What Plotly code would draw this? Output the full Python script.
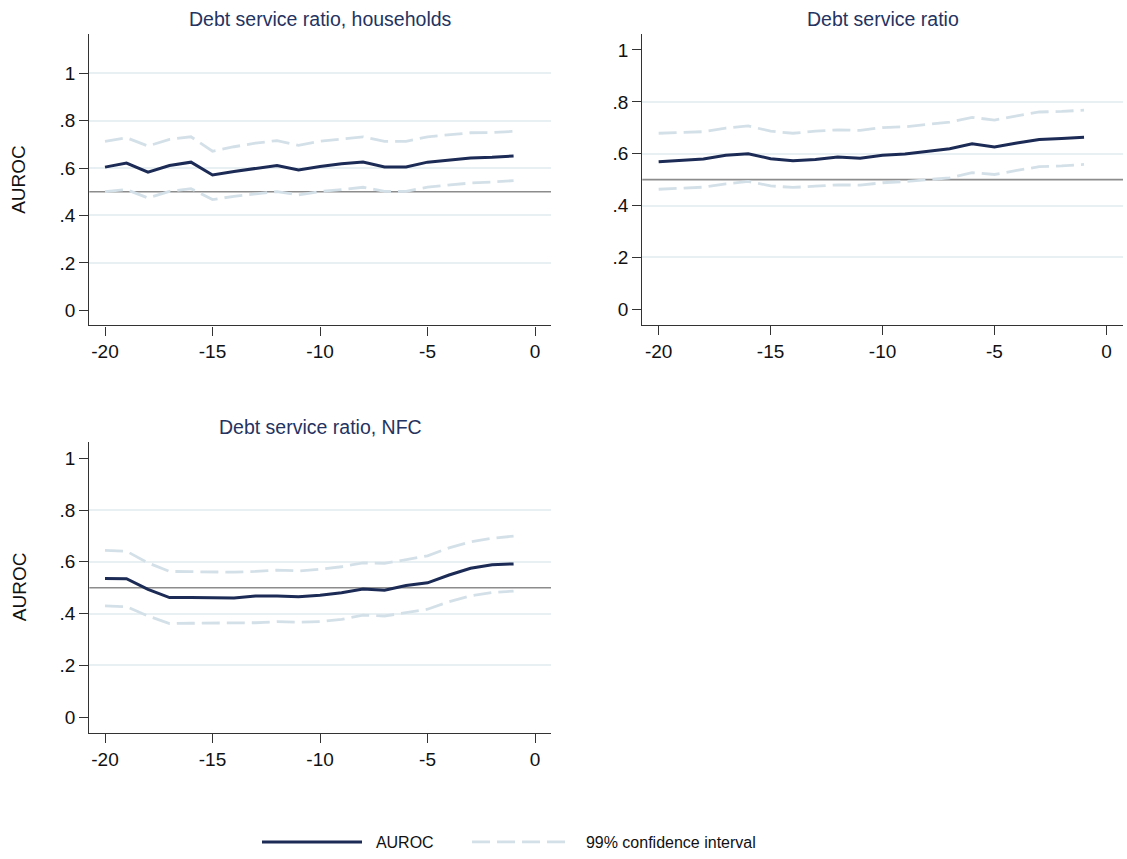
import plotly.graph_objects as go

horizons = list(range(-20, 0))

titles = ["Debt service ratio, households", "Debt service ratio", "Debt service ratio, NFC"]

hh_auroc = [0.604, 0.621, 0.583, 0.611, 0.625, 0.571, 0.586, 0.597, 0.611, 0.592,
            0.607, 0.618, 0.626, 0.605, 0.605, 0.625, 0.635, 0.643, 0.646, 0.651]
hh_upper = [0.713, 0.728, 0.693, 0.721, 0.732, 0.671, 0.690, 0.705, 0.716, 0.696,
            0.713, 0.723, 0.732, 0.713, 0.713, 0.732, 0.741, 0.749, 0.750, 0.755]
hh_lower = [0.501, 0.509, 0.474, 0.502, 0.513, 0.467, 0.481, 0.492, 0.501, 0.487,
            0.501, 0.509, 0.519, 0.502, 0.502, 0.520, 0.529, 0.537, 0.541, 0.547]

tot_auroc = [0.569, 0.574, 0.580, 0.594, 0.600, 0.581, 0.573, 0.578, 0.587, 0.583,
             0.594, 0.599, 0.609, 0.619, 0.638, 0.626, 0.641, 0.655, 0.659, 0.664]
tot_upper = [0.679, 0.681, 0.685, 0.699, 0.707, 0.687, 0.679, 0.687, 0.692, 0.690,
             0.701, 0.704, 0.713, 0.722, 0.740, 0.730, 0.746, 0.761, 0.763, 0.768]
tot_lower = [0.463, 0.466, 0.471, 0.484, 0.493, 0.476, 0.470, 0.475, 0.480, 0.479,
             0.488, 0.493, 0.500, 0.507, 0.527, 0.520, 0.536, 0.550, 0.553, 0.559]

nfc_auroc = [0.536, 0.535, 0.494, 0.462, 0.462, 0.460, 0.460, 0.468, 0.468, 0.465,
             0.471, 0.481, 0.495, 0.490, 0.509, 0.519, 0.549, 0.575, 0.589, 0.592]
nfc_upper = [0.644, 0.641, 0.596, 0.563, 0.562, 0.560, 0.560, 0.563, 0.568, 0.565,
             0.571, 0.581, 0.596, 0.594, 0.609, 0.623, 0.654, 0.677, 0.691, 0.699]
nfc_lower = [0.430, 0.427, 0.391, 0.362, 0.363, 0.363, 0.363, 0.365, 0.369, 0.367,
             0.369, 0.378, 0.394, 0.391, 0.404, 0.417, 0.446, 0.469, 0.482, 0.487]

x_ticks = [-20, -15, -10, -5, 0]
x_tick_labels = ["-20", "-15", "-10", "-5", "0"]
y_ticks = [0, 0.2, 0.4, 0.6, 0.8, 1]
y_tick_labels = ["0", ".2", ".4", ".6", ".8", "1"]
reference_level = 0.5

NAVY = "#1c2b55"
CI = "#d4e0e8"
GRID = "#e9f0f3"
AXIS = "#333333"
FONT = "Liberation Sans, Arial, sans-serif"
TICKFONT = dict(family=FONT, size=19, color="#111")

W, H = 1127, 859
# pixel boxes in page coordinates: (left, right, top, bottom)
boxes = [(89.3, 551, 34.5, 328.5), (642.3, 1123, 34.5, 328.2), (89.3, 551, 446, 739.5)]
title_y = [19, 19, 431]
y_ranges = [[-0.064, 1.165], [-0.061, 1.061], [-0.059, 1.063]]
x_range = [-20.73, 0.74]
grid_sets = [[0.2, 0.4, 0.6, 0.8, 1.0], [0.2, 0.4, 0.6, 0.8], [0.2, 0.4, 0.6, 0.8]]
show_ytitle = [True, False, True]


def px(v):
    return v / W


def py(v):
    return 1 - v / H


series = [(hh_auroc, hh_lower, hh_upper), (tot_auroc, tot_lower, tot_upper), (nfc_auroc, nfc_lower, nfc_upper)]

fig = go.Figure()
layout = {}
annotations = []
shapes = []
for i, ((auroc, lo, hi), box, yr, grids, title, ty) in enumerate(
        zip(series, boxes, y_ranges, grid_sets, titles, title_y)):
    n = "" if i == 0 else str(i + 1)
    xa, ya = "x" + n, "y" + n
    l, r, t, b = box
    layout["xaxis" + n] = dict(
        domain=[px(l), min(px(r), 1)], anchor=ya, range=x_range, automargin=False,
        tickvals=x_ticks, ticktext=x_tick_labels, ticks="outside", ticklen=9,
        tickwidth=1.3, tickcolor=AXIS, showline=True, linecolor=AXIS, linewidth=1.3,
        showgrid=False, zeroline=False, tickfont=TICKFONT,
    )
    layout["yaxis" + n] = dict(
        domain=[py(b), py(t)], anchor=xa, range=yr, automargin=False,
        tickvals=y_ticks, ticktext=y_tick_labels, ticks="outside", ticklen=9,
        tickwidth=1.3, tickcolor=AXIS, showline=True, linecolor=AXIS, linewidth=1.3,
        showgrid=False, zeroline=False, tickfont=TICKFONT,
        minor=dict(tickvals=grids, showgrid=True, gridcolor=GRID, gridwidth=1.5, ticks=""),
    )
    annotations.append(dict(
        text=title, x=px((l + r) / 2), y=py(ty), xref="paper", yref="paper",
        xanchor="center", yanchor="middle", showarrow=False,
        font=dict(family=FONT, size=19.5, color="#24335f"),
    ))
    if show_ytitle[i]:
        annotations.append(dict(
            text="AUROC", x=px(19), y=py((t + b) / 2), xref="paper", yref="paper",
            xanchor="center", yanchor="middle", showarrow=False, textangle=-90,
            font=dict(family=FONT, size=19, color="#111"),
        ))
    shapes.append(dict(
        type="line", xref=xa + " domain", yref=ya, x0=0, x1=1, y0=reference_level, y1=reference_level,
        line=dict(color="#8c8c8c", width=1.6), layer="below",
    ))
    fig.add_trace(go.Scatter(x=horizons, y=lo, xaxis=xa, yaxis=ya, mode="lines",
                             line=dict(color=CI, width=2.8, dash="18px,7px"),
                             name="99% confidence interval", showlegend=False, legend="legend2"))
    fig.add_trace(go.Scatter(x=horizons, y=hi, xaxis=xa, yaxis=ya, mode="lines",
                             line=dict(color=CI, width=2.8, dash="18px,7px"),
                             name="\u00a0\u00a099% confidence interval", showlegend=(i == 0),
                             legend="legend2"))
    fig.add_trace(go.Scatter(x=horizons, y=auroc, xaxis=xa, yaxis=ya, mode="lines",
                             line=dict(color=NAVY, width=3),
                             name="\u00a0\u00a0AUROC", showlegend=(i == 0), legend="legend"))

legend_common = dict(orientation="h", xanchor="left", yanchor="middle", y=py(850),
                     itemwidth=100, font=dict(family=FONT, size=16, color="#111"),
                     bgcolor="rgba(0,0,0,0)")

fig.update_layout(
    width=W, height=H, margin=dict(l=0, r=0, t=0, b=0),
    paper_bgcolor="white", plot_bgcolor="white",
    font=dict(family=FONT, size=16, color="#111"),
    annotations=annotations, shapes=shapes,
    legend=dict(x=px(257), **legend_common),
    legend2=dict(x=px(467), **legend_common),
    **layout,
)

fig.write_html(
    "out.html",
    config={"displayModeBar": False},
    post_script="document.body.style.margin='0px';document.body.style.overflow='hidden';",
)
